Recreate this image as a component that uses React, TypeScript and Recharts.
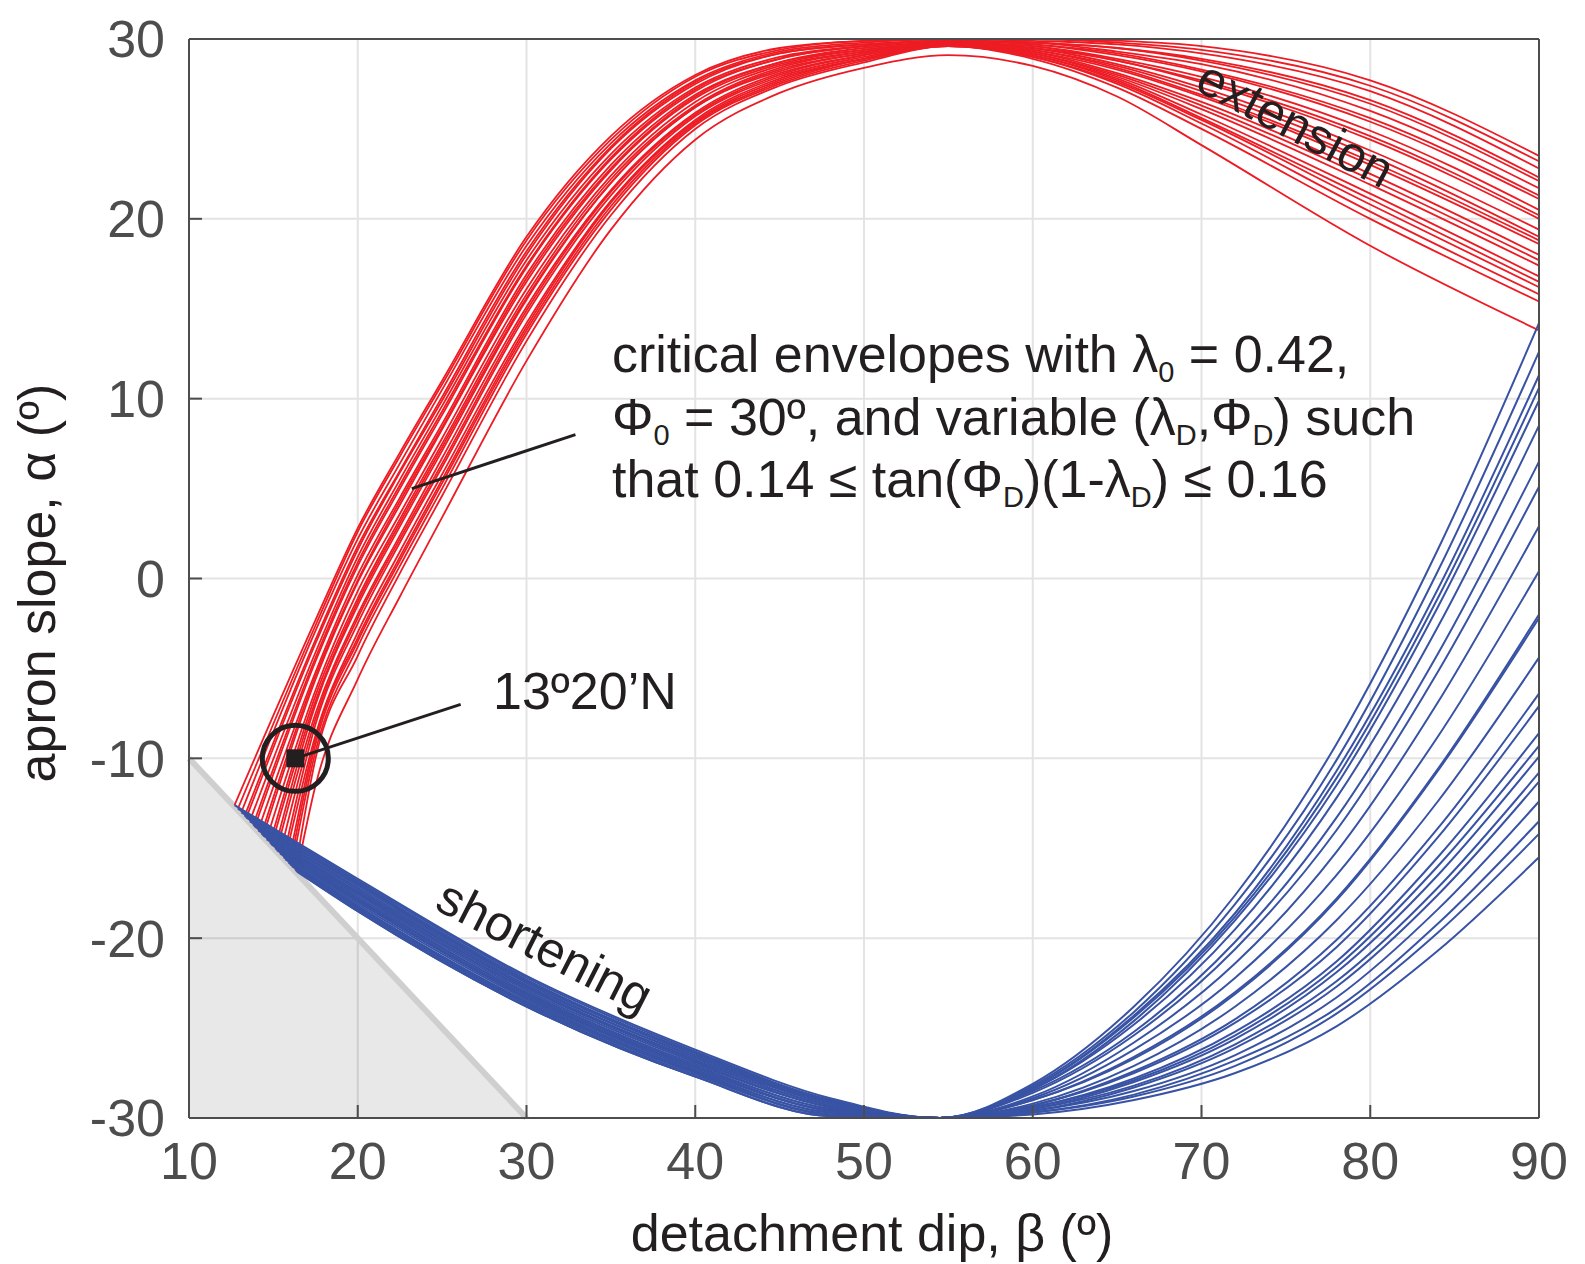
import React from 'react';
import { ComposedChart, Line, Area, XAxis, YAxis, CartesianGrid, ReferenceLine, ReferenceDot } from 'recharts';

const FONT = '"Liberation Sans", Arial, Helvetica, sans-serif';
const INK = '#231f20';
const AXIS = '#4d4d4d';
const RED = '#ed1c24';
const BLUE = '#3953a4';

const W = 1577;
const H = 1256;

const betaTicks = [10, 20, 30, 40, 50, 60, 70, 80, 90];
const alphaTicks = [-30, -20, -10, 0, 10, 20, 30];

// start point of each critical envelope (where extension and shortening branches meet)
const startBeta = [12.7, 12.9, 13.1, 13.3, 13.4, 13.6, 13.8, 13.9, 14.1, 14.3, 14.4, 14.6, 14.8, 14.9, 15.1, 15.2, 15.4, 15.6, 15.7, 15.9, 16.0, 16.1, 16.3, 16.4];
const startAlpha = [-12.6, -12.8, -13.0, -13.2, -13.3, -13.5, -13.7, -13.8, -14.0, -14.2, -14.3, -14.5, -14.7, -14.8, -15.0, -15.1, -15.3, -15.5, -15.6, -15.8, -15.9, -16.0, -16.2, -16.3];

// extension branch (red)
const redBeta = [17.5, 20, 22.5, 25, 30, 35, 40, 45, 50, 55, 60, 65, 70, 80, 90];
const redAlpha = [
  [-2.3, 2.8, 7.0, 11.0, 19.0, 24.6, 28.0, 29.5, 29.9, 30.0, 30.0, 29.9, 29.6, 27.7, 23.5],
  [-2.6, 2.6, 6.8, 10.8, 18.8, 24.4, 27.9, 29.4, 29.9, 30.0, 30.0, 29.8, 29.4, 27.4, 23.2],
  [-2.9, 2.2, 6.4, 10.5, 18.5, 24.2, 27.7, 29.3, 29.8, 30.0, 29.9, 29.7, 29.2, 27.1, 22.8],
  [-3.4, 1.8, 6.0, 10.1, 18.2, 24.0, 27.6, 29.2, 29.7, 29.9, 29.8, 29.5, 28.9, 26.6, 22.3],
  [-3.6, 1.6, 5.9, 9.9, 18.0, 23.9, 27.5, 29.2, 29.7, 29.9, 29.8, 29.5, 28.8, 26.4, 22.1],
  [-4.1, 1.2, 5.5, 9.6, 17.7, 23.6, 27.3, 29.0, 29.6, 29.9, 29.8, 29.3, 28.6, 26.0, 21.7],
  [-4.4, 0.9, 5.2, 9.3, 17.4, 23.4, 27.2, 28.9, 29.6, 29.9, 29.7, 29.2, 28.3, 25.6, 21.3],
  [-4.6, 0.7, 5.0, 9.1, 17.3, 23.3, 27.1, 28.9, 29.6, 29.9, 29.7, 29.1, 28.2, 25.4, 21.1],
  [-5.2, 0.2, 4.5, 8.6, 16.9, 23.0, 26.9, 28.7, 29.5, 29.8, 29.6, 28.9, 27.9, 24.9, 20.5],
  [-5.4, -0.1, 4.3, 8.4, 16.7, 22.8, 26.8, 28.7, 29.4, 29.8, 29.6, 28.8, 27.7, 24.6, 20.2],
  [-5.6, -0.2, 4.1, 8.3, 16.5, 22.7, 26.7, 28.6, 29.4, 29.8, 29.5, 28.8, 27.6, 24.4, 20.0],
  [-6.2, -0.7, 3.6, 7.8, 16.1, 22.4, 26.5, 28.5, 29.3, 29.8, 29.5, 28.6, 27.3, 23.8, 19.4],
  [-6.5, -1.1, 3.3, 7.5, 15.8, 22.2, 26.3, 28.4, 29.3, 29.8, 29.4, 28.5, 27.1, 23.5, 19.0],
  [-6.8, -1.3, 3.1, 7.3, 15.6, 22.0, 26.2, 28.3, 29.2, 29.8, 29.4, 28.4, 26.9, 23.2, 18.8],
  [-7.0, -1.5, 2.9, 7.1, 15.5, 22.0, 26.2, 28.2, 29.2, 29.7, 29.3, 28.3, 26.8, 23.0, 18.6],
  [-7.5, -2.0, 2.4, 6.7, 15.1, 21.6, 25.9, 28.1, 29.1, 29.7, 29.3, 28.1, 26.5, 22.5, 18.0],
  [-7.8, -2.2, 2.2, 6.4, 14.9, 21.5, 25.8, 28.0, 29.1, 29.7, 29.2, 28.0, 26.3, 22.2, 17.7],
  [-8.1, -2.5, 2.0, 6.2, 14.7, 21.3, 25.7, 27.9, 29.0, 29.7, 29.2, 27.9, 26.1, 21.9, 17.4],
  [-8.7, -3.0, 1.5, 5.8, 14.2, 21.0, 25.5, 27.8, 28.9, 29.7, 29.1, 27.8, 25.8, 21.4, 16.8],
  [-8.9, -3.3, 1.2, 5.5, 14.0, 20.9, 25.4, 27.7, 28.9, 29.6, 29.1, 27.7, 25.6, 21.1, 16.5],
  [-9.2, -3.5, 1.0, 5.3, 13.8, 20.7, 25.3, 27.6, 28.9, 29.6, 29.0, 27.6, 25.5, 20.8, 16.2],
  [-9.6, -3.8, 0.7, 5.0, 13.6, 20.5, 25.2, 27.5, 28.8, 29.6, 29.0, 27.5, 25.3, 20.4, 15.8],
  [-10.0, -4.3, 0.3, 4.6, 13.2, 20.2, 25.0, 27.4, 28.7, 29.6, 28.9, 27.3, 25.0, 20.0, 15.4],
  [-11.5, -5.6, -1.0, 3.4, 12.1, 19.4, 24.4, 27.0, 28.4, 29.1, 28.5, 26.8, 24.1, 18.5, 13.8],
];

// shortening branch (blue)
const blueBeta = [20, 30, 40, 48, 54.5, 60, 66, 72, 78, 84, 90];
const blueAlpha = [
  [-16.7, -22.1, -26.2, -28.9, -30.0, -29.8, -29.0, -27.5, -24.9, -20.7, -15.5],
  [-16.8, -22.2, -26.3, -29.0, -30.0, -29.7, -28.8, -27.1, -24.2, -19.7, -14.2],
  [-16.9, -22.3, -26.4, -29.0, -30.0, -29.7, -28.7, -26.8, -23.9, -19.2, -13.5],
  [-17.0, -22.4, -26.4, -29.1, -30.0, -29.6, -28.5, -26.5, -23.3, -18.4, -12.4],
  [-17.0, -22.4, -26.5, -29.1, -30.0, -29.6, -28.3, -26.1, -22.7, -17.6, -11.3],
  [-17.1, -22.5, -26.6, -29.1, -30.0, -29.5, -28.2, -25.9, -22.4, -17.2, -10.8],
  [-17.2, -22.6, -26.6, -29.2, -30.0, -29.5, -28.0, -25.6, -21.9, -16.5, -9.9],
  [-17.3, -22.7, -26.7, -29.2, -30.0, -29.4, -27.9, -25.4, -21.6, -16.0, -9.3],
  [-17.4, -22.7, -26.8, -29.3, -30.0, -29.4, -27.8, -25.2, -21.3, -15.5, -8.6],
  [-17.5, -22.8, -26.8, -29.3, -30.0, -29.3, -27.5, -24.7, -20.5, -14.4, -7.1],
  [-17.5, -22.9, -26.9, -29.4, -30.0, -29.3, -27.4, -24.5, -20.1, -13.9, -6.4],
  [-17.6, -23.0, -27.0, -29.4, -30.0, -29.2, -27.1, -23.8, -19.0, -12.4, -4.4],
  [-17.7, -23.1, -27.1, -29.5, -30.0, -29.0, -26.7, -23.1, -17.9, -10.7, -2.2],
  [-17.8, -23.1, -27.1, -29.5, -30.0, -29.0, -26.6, -23.0, -17.8, -10.6, -2.0],
  [-17.9, -23.2, -27.2, -29.6, -30.0, -28.9, -26.2, -22.2, -16.5, -8.8, 0.4],
  [-17.9, -23.3, -27.2, -29.6, -30.0, -28.8, -25.8, -21.4, -15.2, -6.9, 2.9],
  [-18.0, -23.3, -27.3, -29.6, -30.0, -28.6, -25.4, -20.6, -14.0, -5.2, 5.1],
  [-18.1, -23.4, -27.4, -29.7, -30.0, -28.5, -25.2, -20.2, -13.3, -4.2, 6.5],
  [-18.2, -23.5, -27.4, -29.7, -30.0, -28.4, -24.8, -19.5, -12.2, -2.7, 8.5],
  [-18.3, -23.6, -27.5, -29.8, -30.0, -28.4, -24.6, -19.0, -11.5, -1.6, 9.9],
  [-18.3, -23.6, -27.5, -29.8, -30.0, -28.3, -24.4, -18.8, -11.1, -1.1, 10.6],
  [-18.4, -23.7, -27.6, -29.8, -30.0, -28.3, -24.3, -18.6, -10.7, -0.6, 11.3],
  [-18.5, -23.8, -27.7, -29.9, -30.0, -28.2, -24.1, -18.1, -10.1, 0.4, 12.6],
  [-18.5, -23.8, -27.7, -29.9, -30.0, -28.1, -23.8, -17.6, -9.2, 1.6, 14.2],
];

// forbidden region alpha < -beta
const shadeBeta = [10, 30];
const shadeAlpha = [-10, -30];

// site 13°20'N
const siteBeta = 16.3;
const siteAlpha = -10;
const siteLeaderBeta = [16.3, 26.1];
const siteLeaderAlpha = [-10, -7.0];
const noteLeaderBeta = [32.9, 23.2];
const noteLeaderAlpha = [8.0, 5.0];

// annotation text, parts as [text, isSubscript]
const noteLine1: [string, boolean][] = [['critical envelopes with λ', false], ['0', true], [' = 0.42,', false]];
const noteLine2: [string, boolean][] = [['Φ', false], ['0', true], [' = 30º, and variable (λ', false], ['D', true], [',Φ', false], ['D', true], [') such', false]];
const noteLine3: [string, boolean][] = [['that 0.14 ≤ tan(Φ', false], ['D', true], [')(1-λ', false], ['D', true], [') ≤ 0.16', false]];

const curve = (i: number, grid: number[], vals: number[]) => [
  { b: startBeta[i], a: startAlpha[i] },
  ...grid.map((b, k) => ({ b, a: vals[k] })),
];

const shadeData = shadeBeta.map((b, k) => ({ b, a: shadeAlpha[k] }));

const SUB_DY = 10;

const RichLine = ({ x, y, parts }: { x: number; y: number; parts: [string, boolean][] }) => {
  let prevSub = false;
  return (
    <text x={x} y={y} fontSize={52} fill={INK}>
      {parts.map(([t, sub], k) => {
        let dy = 0;
        if (sub && !prevSub) dy = SUB_DY;
        if (!sub && prevSub) dy = -SUB_DY;
        prevSub = sub;
        return (
          <tspan key={k} dy={dy} fontSize={sub ? 29 : 52}>
            {t}
          </tspan>
        );
      })}
    </text>
  );
};

export default function App() {
  const axisLine = { stroke: AXIS, strokeWidth: 2 };
  const tickLine = { stroke: AXIS, strokeWidth: 2 };
  const tickStyle = { fontSize: 52, fill: AXIS, fontFamily: FONT };
  return (
    <div style={{ position: 'relative', width: W, height: H, background: '#fff' }}>
      <ComposedChart width={W} height={H} margin={{ top: 30, right: 45, bottom: 46, left: 0 }}>
        <CartesianGrid stroke="#e3e3e3" strokeWidth={2} />
        <XAxis
          xAxisId={0}
          type="number"
          dataKey="b"
          domain={[10, 90]}
          ticks={betaTicks}
          interval={0}
          height={100}
          tickSize={-13}
          tickMargin={37}
          axisLine={axisLine}
          tickLine={tickLine}
          tick={tickStyle}
        />
        <XAxis
          xAxisId="top"
          orientation="top"
          type="number"
          domain={[10, 90]}
          ticks={betaTicks}
          interval={0}
          height={1}
          tickSize={-13}
          axisLine={axisLine}
          tickLine={tickLine}
          tick={false}
        />
        <YAxis
          yAxisId={0}
          type="number"
          domain={[-30, 30]}
          ticks={alphaTicks}
          interval={0}
          width={181}
          tickSize={-13}
          tickMargin={37}
          axisLine={axisLine}
          tickLine={tickLine}
          tick={tickStyle}
        />
        <YAxis
          yAxisId="right"
          orientation="right"
          type="number"
          domain={[-30, 30]}
          ticks={alphaTicks}
          interval={0}
          width={1}
          tickSize={-13}
          axisLine={axisLine}
          tickLine={tickLine}
          tick={false}
        />
        <Area
          data={shadeData}
          dataKey="a"
          type="linear"
          baseValue={-30}
          fill="#000"
          fillOpacity={0.09}
          stroke="none"
          isAnimationActive={false}
          activeDot={false}
        />
        <Line
          data={shadeData}
          dataKey="a"
          type="linear"
          stroke="#cfcfcf"
          strokeWidth={6}
          dot={false}
          activeDot={false}
          isAnimationActive={false}
        />
        {redAlpha.map((vals, i) => (
          <Line
            key={'r' + i}
            data={curve(i, redBeta, vals)}
            dataKey="a"
            type="monotone"
            stroke={RED}
            strokeWidth={1.8}
            dot={false}
            activeDot={false}
            isAnimationActive={false}
          />
        ))}
        {blueAlpha.map((vals, i) => (
          <Line
            key={'b' + i}
            data={curve(i, blueBeta, vals)}
            dataKey="a"
            type="monotone"
            stroke={BLUE}
            strokeWidth={2}
            dot={false}
            activeDot={false}
            isAnimationActive={false}
          />
        ))}
        <ReferenceLine
          segment={[
            { x: noteLeaderBeta[0], y: noteLeaderAlpha[0] },
            { x: noteLeaderBeta[1], y: noteLeaderAlpha[1] },
          ]}
          stroke={INK}
          strokeWidth={3}
        />
        <ReferenceLine
          segment={[
            { x: siteLeaderBeta[0], y: siteLeaderAlpha[0] },
            { x: siteLeaderBeta[1], y: siteLeaderAlpha[1] },
          ]}
          stroke={INK}
          strokeWidth={3}
        />
        <ReferenceDot x={siteBeta} y={siteAlpha} r={33} fill="none" stroke={INK} strokeWidth={5} />
        <ReferenceDot
          x={siteBeta}
          y={siteAlpha}
          r={9}
          shape={(p: any) => <rect x={p.cx - 9} y={p.cy - 9} width={18} height={18} fill={INK} />}
        />
      </ComposedChart>
      <svg
        width={W}
        height={H}
        style={{ position: 'absolute', left: 0, top: 0, pointerEvents: 'none', overflow: 'visible' }}
        fontFamily={FONT}
      >
        <RichLine x={604} y={364} parts={noteLine1} />
        <RichLine x={604} y={427} parts={noteLine2} />
        <RichLine x={604} y={489} parts={noteLine3} />
        <text x={485} y={701} fontSize={52} fill={INK}>
          13º20’N
        </text>
        <g transform="translate(1288,115) rotate(28)">
          <text x={0} y={18} fontSize={50} fill={INK} textAnchor="middle">
            extension
          </text>
        </g>
        <g transform="translate(535,942) rotate(27)">
          <text x={0} y={13} fontSize={50} fill={INK} textAnchor="middle">
            shortening
          </text>
        </g>
        <text x={864} y={1243} fontSize={52} fill={INK} textAnchor="middle">
          detachment dip, β (º)
        </text>
        <g transform="translate(47,575) rotate(-90)">
          <text x={0} y={0} fontSize={52} fill={INK} textAnchor="middle">
            apron slope, α (º)
          </text>
        </g>
      </svg>
    </div>
  );
}
